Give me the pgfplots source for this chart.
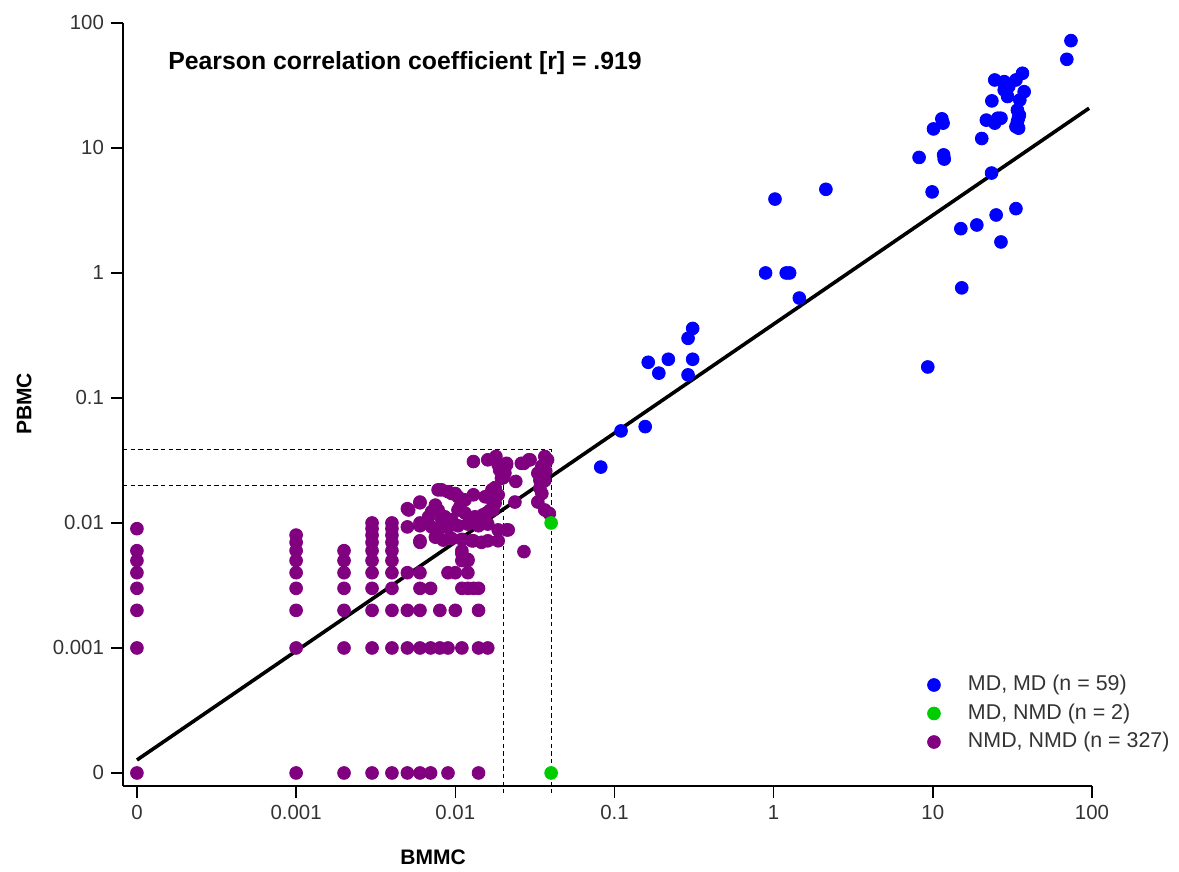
\documentclass[border=0pt]{standalone}
\usepackage{fontspec}
\setmainfont{Liberation Sans}
\usepackage{pgfplots}
\pgfplotsset{compat=1.18}
\definecolor{mdblue}{RGB}{0,0,255}
\definecolor{mdgreen}{RGB}{0,204,0}
\definecolor{nmdpurple}{RGB}{128,0,128}
\pgfplotsset{
  dotstyle/.style={only marks, mark=*, mark size=3.2pt, color=#1,
    legend image code/.code={\path[draw=none,fill=none] (0pt,-1pt) rectangle (25.5pt,1pt); \draw[##1] plot coordinates {(8.5pt,0pt)};}},
}
\begin{document}
\begin{tikzpicture}
\begin{axis}[
  scale only axis, width=484.5pt, height=381.5pt,
  xmode=log, ymode=log,
  xmin=8.17e-5, xmax=100, ymin=7.87e-5, ymax=100,
  axis lines=left, axis line style={-, line width=0.75pt, black},
  tick align=outside, major tick length=6pt, tick style={line width=0.75pt, black},
  xminorticks=false, yminorticks=false,
  xtick={1e-4,1e-3,1e-2,1e-1,1,10,100},
  xticklabels={0,0.001,0.01,0.1,1,10,100},
  ytick={1e-4,1e-3,1e-2,1e-1,1,10,100},
  yticklabels={0,0.001,0.01,0.1,1,10,100},
  ticklabel style={font=\fontsize{10.2}{12}\selectfont, text=black!80},
  xlabel={BMMC}, ylabel={PBMC},
  xlabel style={at={(axis description cs:0.32,-0.094)}, anchor=center, font=\bfseries\fontsize{10.5}{12}\selectfont},
  ylabel style={at={(axis description cs:-0.102,0.5007)}, anchor=center, font=\bfseries\fontsize{10.5}{12}\selectfont},
  clip=false,
  reverse legend,
  legend cell align=left,
  legend style={at={(axis description cs:0.8194,0.1461)}, anchor=north west, draw=none, fill=none,
    inner sep=0pt, outer sep=0pt, row sep=3.75pt,
    nodes={inner sep=0pt, text height=8pt, text depth=2.5pt},
    font=\fontsize{10.7}{12}\selectfont, text=black!80},
]
% invisible frame giving the picture the reference proportions
\path (rel axis cs:-0.1269,-0.1088) rectangle (rel axis cs:1.0898,1.0301);

% dashed guide lines
\draw[line width=0.6pt, dash pattern=on 2.2pt off 1.6pt] (axis cs:8.17e-5,0.02) -- (axis cs:0.02,0.02) -- ([yshift=-3.5pt]axis cs:0.02,7.87e-5);
\draw[line width=0.6pt, dash pattern=on 2.2pt off 1.6pt] (axis cs:8.17e-5,0.0385) -- (axis cs:0.04,0.0385) -- ([yshift=-3.5pt]axis cs:0.04,7.87e-5);

\addplot[dotstyle=nmdpurple] table {
x y
1e-4 0.009
1e-4 0.006
1e-4 0.005
1e-4 0.004
1e-4 0.003
1e-4 0.002
1e-4 0.001
1e-4 1e-4
0.001 0.008
0.001 0.007
0.001 0.006
0.001 0.005
0.001 0.004
0.001 0.003
0.001 0.002
0.001 0.001
0.001 1e-4
0.002 0.006
0.002 0.005
0.002 0.004
0.002 0.003
0.002 0.002
0.002 0.001
0.002 1e-4
0.003 0.010
0.003 0.009
0.003 0.008
0.003 0.007
0.003 0.006
0.003 0.005
0.003 0.004
0.003 0.003
0.003 0.002
0.003 0.001
0.003 1e-4
0.004 0.010
0.004 0.009
0.004 0.008
0.004 0.007
0.004 0.006
0.004 0.005
0.004 0.004
0.004 0.003
0.004 0.002
0.004 0.001
0.004 1e-4
0.005 0.013
0.005 0.0093
0.005 0.004
0.005 0.002
0.005 0.001
0.005 1e-4
0.006 0.0145
0.006 0.010
0.006 0.007
0.006 0.004
0.006 0.003
0.006 0.002
0.006 0.001
0.006 1e-4
0.007 0.003
0.007 0.001
0.007 1e-4
0.008 0.002
0.008 0.001
0.009 0.004
0.009 0.001
0.009 1e-4
0.010 0.004
0.010 0.002
0.011 0.006
0.011 0.005
0.011 0.003
0.011 0.001
0.012 0.005
0.012 0.004
0.012 0.003
0.013 0.003
0.014 0.003
0.014 0.002
0.014 0.001
0.014 1e-4
0.016 0.001
0.013 0.031
0.016 0.032
0.018 0.034
0.0178 0.0328
0.0186 0.0292
0.021 0.030
0.021 0.0292
0.0205 0.0251
0.019 0.0265
0.0195 0.0228
0.020 0.023
0.024 0.0215
0.026 0.030
0.029 0.032
0.027 0.030
0.0295 0.032
0.0365 0.034
0.035 0.0285
0.033 0.025
0.0365 0.0218
0.035 0.0172
0.033 0.0147
0.0365 0.0127
0.039 0.0119
0.034 0.019
0.038 0.032
0.037 0.026
0.034 0.022
0.0237 0.0147
0.021 0.0088
0.0186 0.0088
0.027 0.0059
0.0082 0.0184
0.0095 0.0172
0.0104 0.0162
0.009 0.0178
0.0078 0.0184
0.010 0.0172
0.013 0.0168
0.0154 0.0162
0.017 0.0184
0.0178 0.0144
0.0165 0.0126
0.0149 0.0116
0.0178 0.0192
0.0186 0.0168
0.017 0.0153
0.0173 0.0127
0.0157 0.012
0.006 0.0147
0.0051 0.0127
0.0075 0.0139
0.0078 0.0127
0.0068 0.0112
0.0086 0.0112
0.0104 0.0127
0.0115 0.012
0.0115 0.0153
0.0107 0.0135
0.006 0.0095
0.0071 0.0093
0.0078 0.0088
0.009 0.0092
0.0104 0.0095
0.012 0.0098
0.014 0.0095
0.016 0.0098
0.006 0.0072
0.0075 0.0077
0.0084 0.0073
0.0095 0.0075
0.011 0.0074
0.0127 0.0072
0.0146 0.007
0.016 0.0072
0.0186 0.0072
0.013 0.0072
0.011 0.0057
0.012 0.0051
0.0071 0.0123
0.0082 0.0109
0.0095 0.0106
0.0133 0.0112
0.0146 0.0106
0.0215 0.0088
};
\addlegendentry{NMD, NMD (n = 327)}

\addplot[dotstyle=mdgreen] table {
x y
0.04 0.01
0.04 1e-4
};
\addlegendentry{MD, NMD (n = 2)}

\addplot[dotstyle=mdblue] table {
x y
2.13 4.67
1.02 3.9
0.89 1.0
1.2 1.0
1.26 1.0
1.45 0.63
0.31 0.36
0.29 0.30
0.163 0.193
0.218 0.204
0.31 0.204
0.19 0.158
0.29 0.153
0.11 0.0545
0.156 0.059
0.082 0.028
9.3 0.177
9.9 4.45
23.4 6.3
15 2.26
18.9 2.42
25 2.91
33.3 3.27
26.8 1.77
15.2 0.76
73.8 72.2
69.5 51.2
8.2 8.4
11.7 8.8
11.8 8.15
10.1 14.2
11.4 17.1
11.6 15.8
20.3 11.9
23.5 23.8
21.7 16.7
24.5 15.8
26.8 17.3
24.5 35
28.1 33.9
29.5 25.8
28.1 29.1
36.6 39.6
33.3 35
37.5 28.2
35.2 24.2
34 20.1
34.5 17.3
33.3 14.8
34 16.2
35 18.3
25.6 17.3
28 33
30 31
34.6 14.4
};
\addlegendentry{MD, MD (n = 59)}

\addplot[black, line width=1.8pt, forget plot] coordinates {(1.0e-4,1.27e-4) (95.9,20.8)};

\node[anchor=west, inner sep=0pt, font=\bfseries\fontsize{12.4}{14}\selectfont] at (rel axis cs:0.0464,0.9476) {Pearson correlation coefficient [r] = .919};
\end{axis}
\end{tikzpicture}
\end{document}
